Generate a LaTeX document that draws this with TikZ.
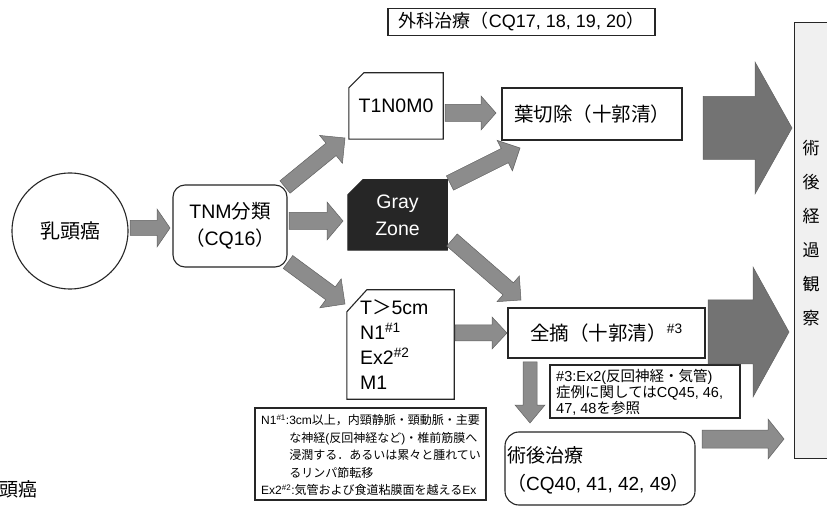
\documentclass[tikz,border=0pt]{standalone}
\usepackage{fontspec}
\setmainfont{Liberation Sans}
\newfontfamily\jp{Noto Sans CJK JP}
\usetikzlibrary{calc}

% block arrow: style, from, to, body half width, head half width, head length
\newcommand{\blockarrow}[6]{%
  \coordinate (ba-h) at ($(#3)!#6!(#2)$);
  \path[#1] ($(#2)!#4!90:(#3)$) -- ($(ba-h)!#4!90:(#3)$) -- ($(ba-h)!#5!90:(#3)$) -- (#3)
    -- ($(ba-h)!#5!-90:(#3)$) -- ($(ba-h)!#4!-90:(#3)$) -- ($(#2)!#4!-90:(#3)$) -- cycle;}

\tikzset{
  bline/.style={draw=black!85, line width=1.1pt},
  plainbox/.style={bline, inner sep=0pt},
  rbox/.style={bline, inner sep=0pt, rounded corners=12pt},
  big/.style={font=\fontsize{19.5}{27}\selectfont},
  sarrow/.style={fill=black!45, draw=black!62, line width=0.5pt},
  barrow/.style={fill=black!55, draw=black!62, line width=0.5pt},
}

\begin{document}
\begin{tikzpicture}[x=1pt,y=-1pt]
\path[use as bounding box, fill=white] (0,0) rectangle (827,510);

% right panel
\node[minimum width=33pt, minimum height=435pt, inner sep=0pt, fill=black!6] (panel) at (811.5,240.5) {};
\draw[bline] (panel.north east) -- (panel.north west) -- (panel.south west) -- (panel.south east);
\node[font=\jp\fontsize{17}{34}\selectfont, align=center, inner sep=0pt] (obs) at (811,233) {術\\後\\経\\過\\観\\察};

% top title box
\node[plainbox, minimum width=267pt, minimum height=27pt, font=\fontsize{18}{20}\selectfont] (surg) at (521.5,22) {{\jp 外科治療（}CQ17, 18, 19, 20{\jp ）}};

% circle
\node[bline, circle, minimum size=116pt, inner sep=0pt, font=\jp\fontsize{20}{22}\selectfont] (nyuto) at (70,231) {乳頭癌};

% TNM box
\node[rbox, big, align=center, minimum width=114pt, minimum height=82pt] (tnm) at (230,226) {TNM{\jp 分類}\\{\jp （}CQ16{\jp ）}};

% T1N0M0
\node[inner sep=0pt, big, minimum width=94pt, minimum height=66pt] (t1) at (396,106) {T1N0M0};
\draw[bline] ([yshift=-15pt]t1.north west) -- ([xshift=15pt]t1.north west) -- (t1.north east) -- (t1.south east) -- (t1.south west) -- cycle;

% Gray zone
\node[inner sep=0pt, minimum width=99pt, minimum height=70pt] (gray) at (397.5,215) {};
\path[bline, fill=black!85] ([yshift=-15pt]gray.north west) -- ([xshift=15pt]gray.north west) -- (gray.north east) -- (gray.south east) -- (gray.south west) -- cycle;
\node[big, align=center, text=white, inner sep=0pt] (graytxt) at (gray.center) {Gray\\Zone};

% T>5cm box
\node[inner sep=0pt, minimum width=107pt, minimum height=109pt] (t5) at (400.5,344.5) {};
\draw[bline] ([yshift=-22pt]t5.north west) -- ([xshift=20pt]t5.north west) -- (t5.north east) -- (t5.south east) -- (t5.south west) -- cycle;
\node[anchor=west, align=left, inner sep=0pt, font=\fontsize{19.5}{25}\selectfont] (t5txt) at (360,345) {T{\jp ＞}5cm\\N1\textsuperscript{\#1}\\Ex2\textsuperscript{\#2}\\M1};

% footnote box
\node[plainbox, minimum width=231pt, minimum height=92pt] (foot) at (370.5,454) {};
\node[anchor=west, align=left, inner sep=0pt, font=\fontsize{12}{17.5}\selectfont] (foottxt) at (261,455) {%
N1\textsuperscript{\#1}:3cm{\jp 以上，内頸静脈・頸動脈・主要}\\
\phantom{N1\textsuperscript{\#1}:}{\jp な神経}({\jp 反回神経など}){\jp ・椎前筋膜へ}\\
\phantom{N1\textsuperscript{\#1}:}{\jp 浸潤する．あるいは累々と腫れてい}\\
\phantom{N1\textsuperscript{\#1}:}{\jp るリンパ節転移}\\
Ex2\textsuperscript{\#2}:{\jp 気管および食道粘膜面を越える}Ex};

% lobectomy
\node[plainbox, big, minimum width=180pt, minimum height=52pt] (lobe) at (592,114) {\jp 葉切除（十郭清）};

% total
\node[plainbox, big, minimum width=197pt, minimum height=50pt] (total) at (606.5,333) {{\jp 全摘（十郭清）}\textsuperscript{\#3}};

% note #3
\node[plainbox, minimum width=190pt, minimum height=53pt] (note) at (645,391.5) {};
\node[anchor=west, align=left, inner sep=0pt, font=\fontsize{14.5}{16}\selectfont] (notetxt) at (556,392) {%
\#3:Ex2({\jp 反回神経・気管})\\
{\jp 症例に関しては}CQ45, 46,\\
47, 48{\jp を参照}};

% post-op treatment
\node[rbox, rounded corners=14pt, minimum width=190pt, minimum height=73pt] (post) at (600,468.5) {};
\node[anchor=west, align=left, inner sep=0pt, font=\fontsize{19}{28}\selectfont] (posttxt) at (507,470) {{\jp 術後治療}\\{\jp （}CQ40, 41, 42, 49{\jp ）}};

% fragment text
\node[anchor=west, inner sep=0pt, font=\jp\fontsize{19}{21}\selectfont] (frag) at (-1,489) {頭癌};

% arrow end points
\coordinate (a1s) at (130,228);  \coordinate (a1e) at (170,228);
\coordinate (a2s) at (285,187);  \coordinate (a2e) at (345,138);
\coordinate (a3s) at (289,221);  \coordinate (a3e) at (343,221);
\coordinate (a4s) at (288,262);  \coordinate (a4e) at (345,304);
\coordinate (a5s) at (445,113);  \coordinate (a5e) at (496,113);
\coordinate (a6s) at (450,183);  \coordinate (a6e) at (520,148);
\coordinate (a7s) at (452,240);  \coordinate (a7e) at (521,300);
\coordinate (a8s) at (455,333);  \coordinate (a8e) at (507,333);
\coordinate (a9s) at (530,362);  \coordinate (a9e) at (530,423);
\coordinate (b1s) at (703,128);  \coordinate (b1e) at (792,128);
\coordinate (b2s) at (708,332);  \coordinate (b2e) at (789,332);
\coordinate (b3s) at (702,439);  \coordinate (b3e) at (784,439);

\blockarrow{sarrow}{a1s}{a1e}{7.5pt}{19pt}{13pt}
\blockarrow{sarrow}{a2s}{a2e}{8pt}{18pt}{18pt}
\blockarrow{sarrow}{a3s}{a3e}{8.5pt}{19pt}{16pt}
\blockarrow{sarrow}{a4s}{a4e}{8pt}{18pt}{18pt}
\blockarrow{sarrow}{a5s}{a5e}{8.5pt}{17pt}{15pt}
\blockarrow{sarrow}{a6s}{a6e}{8pt}{17pt}{17pt}
\blockarrow{sarrow}{a7s}{a7e}{8pt}{17pt}{17pt}
\blockarrow{sarrow}{a8s}{a8e}{8pt}{16pt}{15pt}
\blockarrow{sarrow}{a9s}{a9e}{7pt}{15pt}{18pt}
\blockarrow{barrow}{b1s}{b1e}{31.5pt}{66pt}{37pt}
\blockarrow{barrow}{b2s}{b2e}{32pt}{65pt}{36pt}
\blockarrow{sarrow}{b3s}{b3e}{9pt}{20pt}{16pt}
\end{tikzpicture}
\end{document}
